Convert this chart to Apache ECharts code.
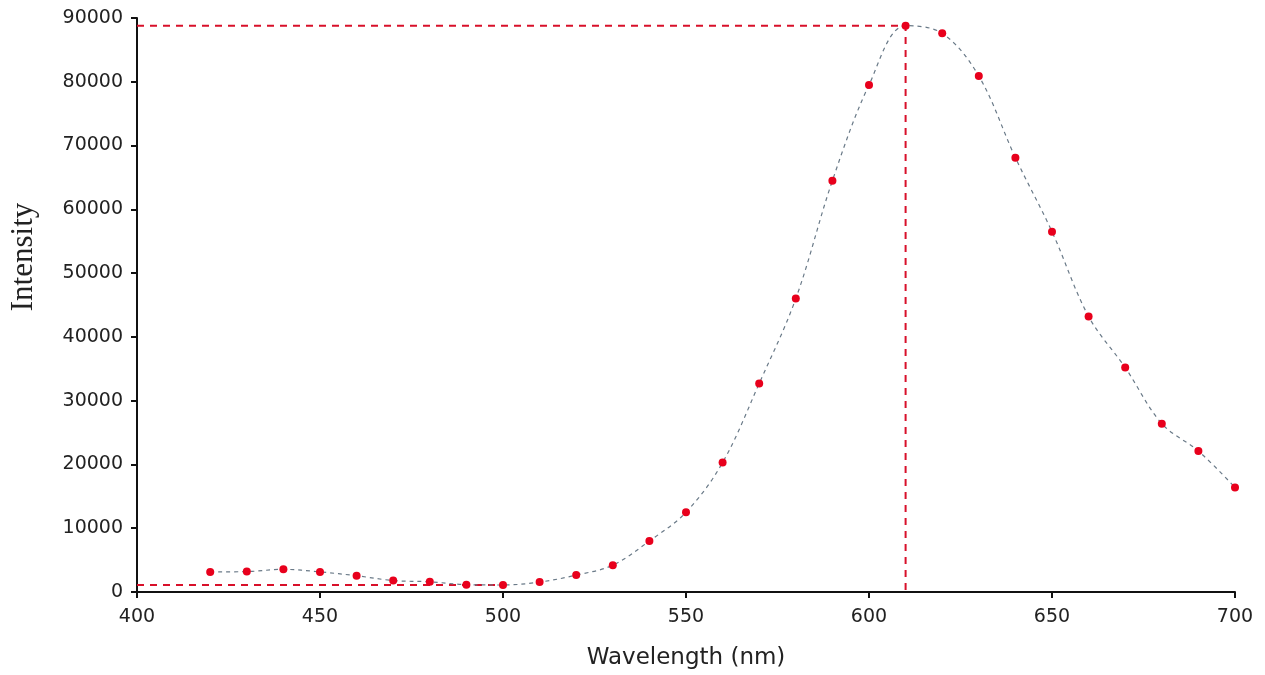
<!DOCTYPE html>
<html>
<head>
<meta charset="utf-8">
<script src="https://cdn.jsdelivr.net/npm/echarts@6/dist/echarts.min.js"></script>
<style>html,body{margin:0;padding:0;background:#fff}#c{width:1265px;height:675px}</style>
</head>
<body>
<div id="c"></div>
<script>
const wavelengths = [420,430,440,450,460,470,480,490,500,510,520,530,540,550,560,570,580,590,600,610,620,630,640,650,660,670,680,690,700];
const intensity = [3150,3200,3550,3150,2550,1800,1600,1150,1100,1550,2650,4200,8000,12500,20300,32700,46000,64500,79500,88800,87600,80900,68100,56500,43200,35200,26400,22100,16400];
const peakX = 610, peakY = 88800;
const minX = 500, minY = 1100;
const xMin = 400, xMax = 700, xStep = 50;
const yMin = 0, yMax = 90000, yStep = 10000;

const chart = echarts.init(document.getElementById('c'));
const refColor = '#d8102a';
const labelStyle = {fontFamily: 'DejaVu Sans', fontSize: 19, color: '#222', formatter: v => String(v)};
chart.setOption({
  animation: false,
  backgroundColor: '#fff',
  grid: {left: 137, right: 30, top: 18, bottom: 81, containLabel: false},
  xAxis: {
    type: 'value', min: xMin, max: xMax, interval: xStep,
    name: 'Wavelength (nm)', nameLocation: 'middle', nameGap: 55,
    nameTextStyle: {fontFamily: 'DejaVu Sans', fontSize: 23, color: '#222'},
    axisLine: {lineStyle: {color: '#111', width: 2}},
    axisTick: {show: true, length: 6, lineStyle: {color: '#111', width: 2}},
    axisLabel: Object.assign({margin: 16}, labelStyle),
    splitLine: {show: false}
  },
  yAxis: {
    type: 'value', min: yMin, max: yMax, interval: yStep,
    axisLine: {show: true, lineStyle: {color: '#111', width: 2}},
    axisTick: {show: true, length: 6, lineStyle: {color: '#111', width: 2}},
    axisLabel: Object.assign({margin: 14}, labelStyle),
    splitLine: {show: false}
  },
  graphic: [{
    type: 'text', x: 24, y: 257, rotation: Math.PI / 2,
    style: {text: 'Intensity', fontFamily: 'Liberation Serif', fontSize: 31, fill: '#222',
            textAlign: 'center', textVerticalAlign: 'middle'}
  }],
  series: [
    {
      type: 'line', data: [[xMin, peakY], [peakX, peakY], [peakX, yMin]],
      symbol: 'none', silent: true, z: 1,
      lineStyle: {color: refColor, width: 2, type: [7, 6]}
    },
    {
      type: 'line', data: [[xMin, minY], [minX, minY]],
      symbol: 'none', silent: true, z: 1,
      lineStyle: {color: refColor, width: 2, type: [7, 6]}
    },
    {
      type: 'line', data: wavelengths.map((w, i) => [w, intensity[i]]),
      smooth: 0.35, z: 3,
      symbol: 'circle', symbolSize: 8,
      itemStyle: {color: '#e8001c'},
      lineStyle: {color: '#6a7a88', width: 1.2, type: [4, 4]}
    }
  ]
});
</script>
</body>
</html>
